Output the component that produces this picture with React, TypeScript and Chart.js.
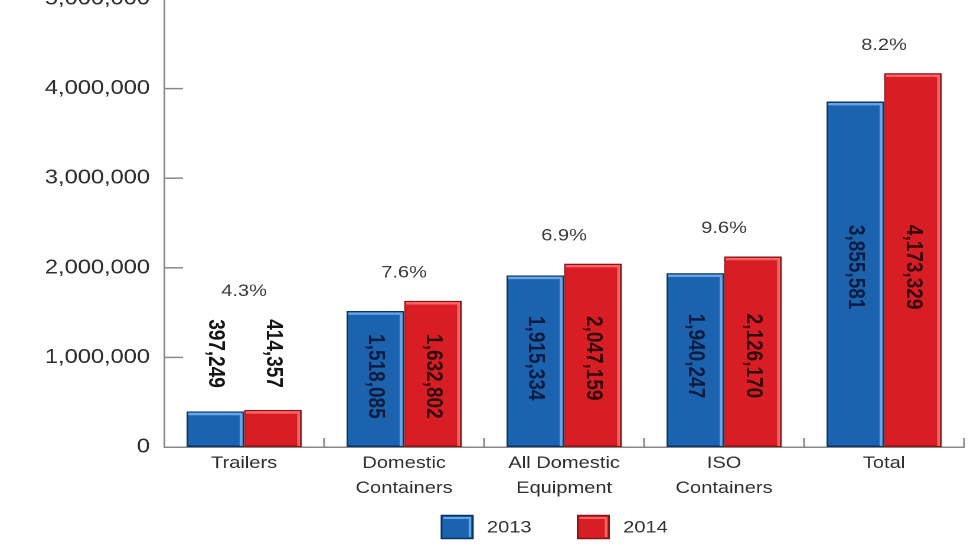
import { useEffect, useRef } from "react";
import { Chart, registerables } from "chart.js";

Chart.register(...registerables);

const categories: string[][] = [
  ["Trailers"],
  ["Domestic", "Containers"],
  ["All Domestic", "Equipment"],
  ["ISO", "Containers"],
  ["Total"],
];
const values2013 = [397249, 1518085, 1915334, 1940247, 3855581];
const values2014 = [414357, 1632802, 2047159, 2126170, 4173329];
const changeLabels = ["4.3%", "7.6%", "6.9%", "9.6%", "8.2%"];
const seriesLabels = ["2013", "2014"];
const yMin = 0;
const yMax = 5000000;
const yStep = 1000000;

const FONT = '"Liberation Sans", Arial, Helvetica, sans-serif';
const fills = ["#1b63ae", "#d81d25"];
const borders = ["#0b3466", "#8a1414"];
const highlights = ["#66a6ea", "#ff6464"];
const valueTextColors = ["#0a1c3e", "#300606"];
const SCALE_X = 980 / 830;

const fmt = (v: number) => v.toLocaleString("en-US");

const decorPlugin = {
  id: "decor",
  afterDatasetsDraw(chart: any) {
    const ctx: CanvasRenderingContext2D = chart.ctx;
    const metas = [chart.getDatasetMeta(0), chart.getDatasetMeta(1)];
    metas.forEach((meta: any, di: number) => {
      meta.data.forEach((el: any) => {
        const { x, y, base, width } = el.getProps(["x", "y", "base", "width"], true);
        const l = x - width / 2;
        const r = x + width / 2;
        ctx.save();
        ctx.strokeStyle = highlights[di];
        ctx.lineWidth = 2.4;
        ctx.beginPath();
        ctx.moveTo(l + 1.5, y + 2.6);
        ctx.lineTo(r - 2.6, y + 2.6);
        ctx.lineTo(r - 2.6, base - 1);
        ctx.stroke();
        ctx.restore();
      });
    });

    const n = chart.data.labels.length;
    for (let i = 0; i < n; i++) {
      const els = metas.map((m: any) => m.data[i].getProps(["x", "y", "base", "width"], true));
      ctx.save();
      ctx.font = `bold 19px ${FONT}`;
      const texts = [fmt(chart.data.datasets[0].data[i]), fmt(chart.data.datasets[1].data[i])];
      const lens = texts.map((t) => ctx.measureText(t).width);
      const L = Math.max(...lens);
      const minH = Math.min(...els.map((e: any) => e.base - e.y));
      const inside = minH > L + 30;
      let labelTop: number;
      let yc: number;
      if (inside) {
        yc = (els[0].y + els[0].base + els[1].y + els[1].base) / 4;
        labelTop = yc - L / 2;
      } else {
        const topBar = Math.min(els[0].y, els[1].y);
        yc = topBar - 22 - L / 2;
        labelTop = yc - L / 2;
      }
      texts.forEach((t, di) => {
        ctx.save();
        ctx.translate(els[di].x, yc);
        ctx.rotate(Math.PI / 2);
        ctx.textAlign = "center";
        ctx.textBaseline = "middle";
        ctx.fillStyle = inside ? valueTextColors[di] : "#151515";
        ctx.fillText(t, 0, 0);
        ctx.restore();
      });
      const topMost = Math.min(els[0].y, els[1].y, labelTop);
      ctx.font = `17px ${FONT}`;
      ctx.fillStyle = "#3c3c3c";
      ctx.textAlign = "center";
      ctx.textBaseline = "middle";
      ctx.fillText(changeLabels[i], (els[0].x + els[1].x) / 2, topMost - 28);
      ctx.restore();
    }
  },
  afterDraw(chart: any) {
    const ctx: CanvasRenderingContext2D = chart.ctx;
    const area = chart.chartArea;
    const ys = chart.scales.y;
    const xs = chart.scales.x;
    ctx.save();
    ctx.strokeStyle = "#888";
    ctx.lineWidth = 1.5;
    ys.ticks.forEach((t: any) => {
      if (t.value <= yMin) return;
      const py = ys.getPixelForValue(t.value);
      ctx.beginPath();
      ctx.moveTo(area.left, py);
      ctx.lineTo(area.left + 16, py);
      ctx.stroke();
    });
    const n = chart.data.labels.length;
    const step = (xs.right - xs.left) / n;
    for (let i = 1; i <= n; i++) {
      const px = xs.left + i * step;
      ctx.beginPath();
      ctx.moveTo(px, area.bottom);
      ctx.lineTo(px, area.bottom - 9);
      ctx.stroke();
    }
    ctx.restore();

    ctx.save();
    ctx.font = `17px ${FONT}`;
    const boxW = 26.5;
    const boxH = 23;
    const textGap = 12;
    const itemGap = 39;
    const widths = seriesLabels.map((s) => boxW + textGap + ctx.measureText(s).width);
    const total = widths.reduce((a, b) => a + b, 0) + itemGap * (seriesLabels.length - 1);
    let x = (area.left + area.right) / 2 - 8 - total / 2;
    const yc = chart.height - 25;
    seriesLabels.forEach((s, di) => {
      const top = yc - boxH / 2;
      ctx.fillStyle = fills[di];
      ctx.fillRect(x, top, boxW, boxH);
      ctx.strokeStyle = borders[di];
      ctx.lineWidth = 1.5;
      ctx.strokeRect(x, top, boxW, boxH);
      ctx.strokeStyle = highlights[di];
      ctx.lineWidth = 2;
      ctx.beginPath();
      ctx.moveTo(x + 1.5, top + 2.5);
      ctx.lineTo(x + boxW - 2.5, top + 2.5);
      ctx.lineTo(x + boxW - 2.5, top + boxH - 1.5);
      ctx.stroke();
      ctx.fillStyle = "#333";
      ctx.textAlign = "left";
      ctx.textBaseline = "middle";
      ctx.fillText(s, x + boxW + textGap, yc + 1);
      x += widths[di] + itemGap;
    });
    ctx.restore();
  },
};

export default function App() {
  const canvasRef = useRef<HTMLCanvasElement | null>(null);

  useEffect(() => {
    if (!canvasRef.current) return;
    const chart = new Chart(canvasRef.current, {
      type: "bar",
      data: {
        labels: categories,
        datasets: [
          {
            label: seriesLabels[0],
            data: values2013,
            backgroundColor: fills[0],
            borderColor: borders[0],
            borderWidth: 1.5,
            borderSkipped: false,
          },
          {
            label: seriesLabels[1],
            data: values2014,
            backgroundColor: fills[1],
            borderColor: borders[1],
            borderWidth: 1.5,
            borderSkipped: false,
          },
        ],
      },
      options: {
        animation: false,
        responsive: true,
        maintainAspectRatio: false,
        devicePixelRatio: 2,
        layout: {
          autoPadding: false,
          padding: { top: 2, right: 13.5, bottom: 45, left: 0 },
        },
        datasets: {
          bar: { categoryPercentage: 0.72, barPercentage: 1.0 },
        },
        plugins: {
          legend: { display: false },
          tooltip: { enabled: false },
          title: { display: false },
        },
        scales: {
          x: {
            type: "category",
            offset: true,
            grid: { display: false, drawTicks: false },
            border: { display: true, color: "#888", width: 1.5 },
            ticks: {
              color: "#2e2e2e",
              padding: 4,
              maxRotation: 0,
              autoSkip: false,
              font: { family: FONT, size: 17, lineHeight: 25 / 17 },
            },
            afterFit: (scale: any) => {
              scale.height = 60;
            },
          },
          y: {
            min: yMin,
            max: yMax,
            grid: { display: false, drawTicks: false },
            border: { display: true, color: "#888", width: 1.5 },
            ticks: {
              stepSize: yStep,
              color: "#2e2e2e",
              padding: 12,
              font: { family: FONT, size: 20 },
              callback: (v: any) => fmt(Number(v)),
            },
            afterFit: (scale: any) => {
              scale.width = 139;
            },
          },
        },
      },
      plugins: [decorPlugin],
    });
    return () => chart.destroy();
  }, []);

  return (
    <div
      style={{
        position: "fixed",
        left: 0,
        top: 0,
        width: 980,
        height: 552,
        overflow: "hidden",
        background: "#fff",
      }}
    >
      <div
        style={{
          position: "absolute",
          left: 0,
          top: -25,
          width: 830,
          height: 577,
          transform: `scaleX(${SCALE_X})`,
          transformOrigin: "0 0",
        }}
      >
        <canvas ref={canvasRef} />
      </div>
    </div>
  );
}
